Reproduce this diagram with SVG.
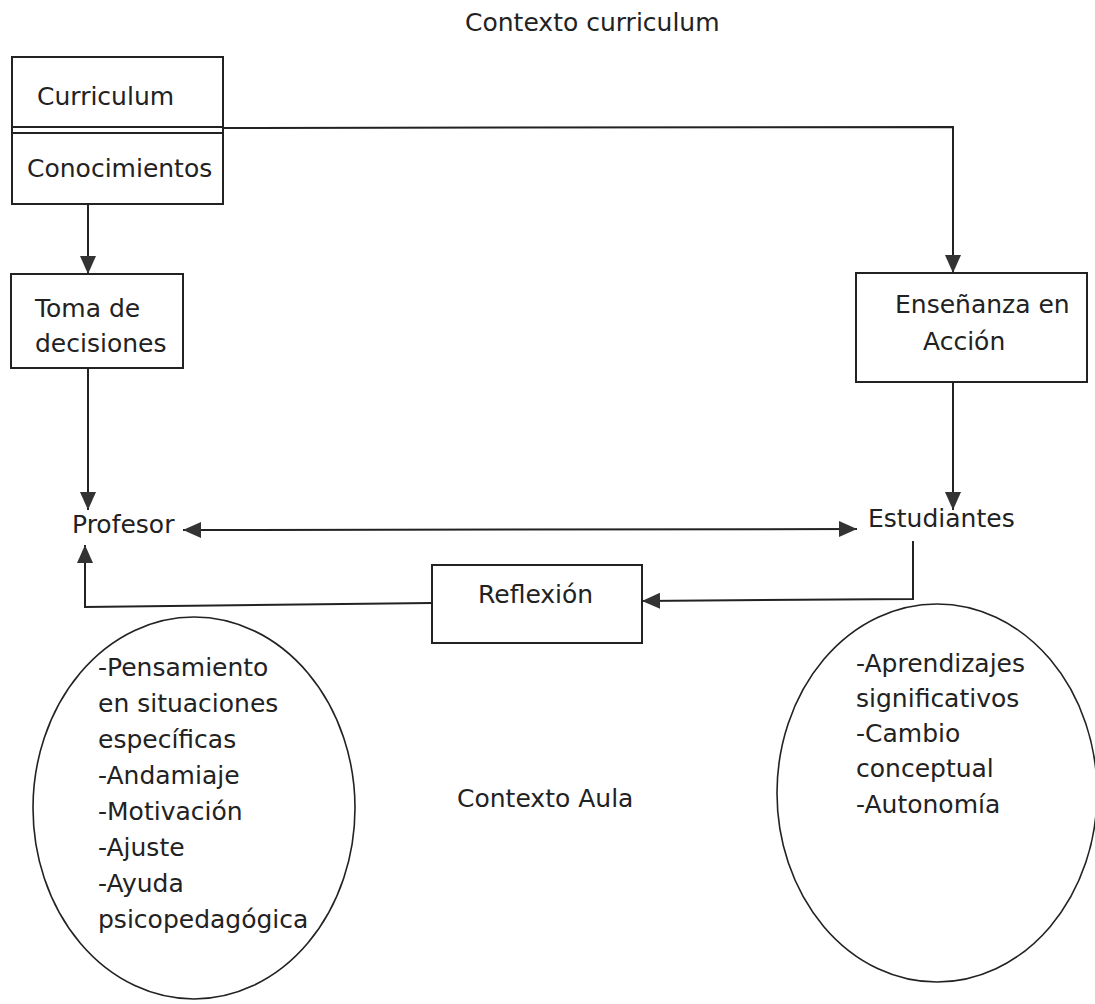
<svg xmlns="http://www.w3.org/2000/svg" width="1095" height="1004" viewBox="0 0 1095 1004">
<defs>
<style>
text{font-family:"DejaVu Sans","Liberation Sans",sans-serif;font-size:25px;fill:#222}
.box{fill:#fff;stroke:#222;stroke-width:2}
.el{fill:none;stroke:#222;stroke-width:1.6}
.c{fill:none;stroke:#222;stroke-width:2}
</style>
<marker id="ah" markerUnits="userSpaceOnUse" markerWidth="20" markerHeight="18" refX="18" refY="8" orient="auto-start-reverse">
<path d="M0,0 L18,8 L0,16 z" fill="#333"/>
</marker>
</defs>
<rect width="1095" height="1004" fill="#fff"/>
<text x="465" y="31">Contexto curriculum</text>
<text x="457" y="807">Contexto Aula</text>
<g id="connectors">
<path class="c" d="M223,128 L953,127 L953,273" marker-end="url(#ah)"/>
<path class="c" d="M88,204 L88,274" marker-end="url(#ah)"/>
<path class="c" d="M88,368 L88,510" marker-end="url(#ah)"/>
<path class="c" d="M953,382 L953,510" marker-end="url(#ah)"/>
<path class="c" d="M183,530 L857,529" marker-start="url(#ah)" marker-end="url(#ah)"/>
<path class="c" d="M913,541 L913,599 L642,601" marker-end="url(#ah)"/>
<path class="c" d="M432,603 L85,607 L85,545" marker-end="url(#ah)"/>
</g>
<g id="curriculum">
<rect class="box" x="12" y="57" width="211" height="147"/>
<line x1="12" y1="127" x2="223" y2="127" stroke="#222" stroke-width="2"/>
<line x1="12" y1="133" x2="223" y2="133" stroke="#222" stroke-width="2"/>
<text x="37" y="105">Curriculum</text>
<text x="27" y="177">Conocimientos</text>
</g>
<g id="toma">
<rect class="box" x="11" y="274" width="172" height="94"/>
<text x="35" y="317">Toma de</text>
<text x="35" y="352">decisiones</text>
</g>
<g id="ensenanza">
<rect class="box" x="856" y="273" width="231" height="109"/>
<text x="895" y="313">Enseñanza en</text>
<text x="923" y="350">Acción</text>
</g>
<g id="profesor"><text x="72" y="533">Profesor</text></g>
<g id="estudiantes"><text x="868" y="527">Estudiantes</text></g>
<g id="reflexion">
<rect class="box" x="432" y="565" width="210" height="78"/>
<text x="478" y="603">Reflexión</text>
</g>
<g id="ellipse-profesor">
<ellipse class="el" cx="194" cy="808" rx="161" ry="191"/>
<text x="98" y="676">-Pensamiento</text>
<text x="98" y="712">en situaciones</text>
<text x="98" y="748">específicas</text>
<text x="98" y="784">-Andamiaje</text>
<text x="98" y="820">-Motivación</text>
<text x="98" y="856">-Ajuste</text>
<text x="98" y="892">-Ayuda</text>
<text x="98" y="928">psicopedagógica</text>
</g>
<g id="ellipse-estudiantes">
<ellipse class="el" cx="937" cy="793" rx="160" ry="189"/>
<text x="856" y="672">-Aprendizajes</text>
<text x="856" y="707">significativos</text>
<text x="856" y="742">-Cambio</text>
<text x="856" y="777">conceptual</text>
<text x="856" y="813">-Autonomía</text>
</g>
</svg>
